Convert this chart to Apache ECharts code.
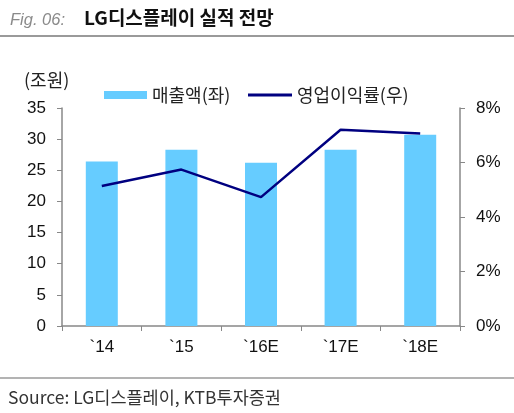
<!DOCTYPE html>
<html>
<head>
<meta charset="utf-8">
<script src="https://cdn.jsdelivr.net/npm/echarts@6/dist/echarts.min.js"></script>
<style>
  html, body { margin: 0; padding: 0; background: #fff; }
  #chart { width: 514px; height: 413px; }
</style>
</head>
<body>
<div id="chart"></div>
<script>
// 연도 / 매출액(조원) / 영업이익률(%)
var years = ['`14', '`15', '`16E', '`17E', '`18E'];
var sales = [26.4, 28.3, 26.2, 28.3, 30.7];
var opMargin = [5.14, 5.74, 4.73, 7.2, 7.06];

var FONT = '"Liberation Sans", Arial, "Noto Sans CJK KR", sans-serif';
var KFONT = '"Noto Sans CJK KR", "Liberation Sans", sans-serif';

var option = {
    animation: false,
    textStyle: { fontFamily: FONT },
    title: [{
        text: 'Fig. 06:',
        left: 5, top: 7,
        textStyle: { fontSize: 16.5, fontStyle: 'italic', fontWeight: 'normal', color: '#8a8a8a', fontFamily: FONT }
    }, {
        text: 'LG디스플레이 실적 전망',
        left: 79, top: 3,
        textStyle: { fontSize: 19, fontWeight: 'bold', color: '#111', fontFamily: KFONT }
    }, {
        text: 'Source: LG디스플레이, KTB투자증권',
        left: 3, top: 384,
        textStyle: { fontSize: 17.5, fontWeight: 'normal', color: '#333', fontFamily: KFONT }
    }],
    graphic: [
        { type: 'line', shape: { x1: 0, y1: 36, x2: 514, y2: 36 }, style: { stroke: '#9a9a9a', lineWidth: 2 } },
        { type: 'line', shape: { x1: 0, y1: 378, x2: 514, y2: 378 }, style: { stroke: '#9a9a9a', lineWidth: 1.5 } },
        { type: 'text', left: 24, top: 71, style: { text: '(조원)', fontSize: 18, fill: '#222', fontFamily: KFONT } }
    ],
    legend: [{
        data: [{ name: '매출액(좌)', icon: 'rect' }],
        left: 99, top: 81,
        itemWidth: 43, itemHeight: 8, itemGap: 5,
        textStyle: { fontSize: 18, color: '#222', fontFamily: KFONT }
    }, {
        data: [{ name: '영업이익률(우)', icon: 'rect' }],
        left: 243, top: 81,
        itemWidth: 44, itemHeight: 3,
        itemStyle: { color: '#000080' },
        textStyle: { fontSize: 18, color: '#222', fontFamily: KFONT }
    }],
    grid: { left: 62, right: 54, top: 108, bottom: 87 },
    xAxis: {
        type: 'category',
        data: years,
        axisLine: { lineStyle: { color: '#888', width: 1.5 } },
        axisTick: { show: true, length: 5, lineStyle: { color: '#888' } },
        axisLabel: { fontSize: 17, color: '#111', margin: 13 }
    },
    yAxis: [{
        type: 'value',
        min: 0, max: 35, interval: 5,
        axisLine: { show: true, lineStyle: { color: '#888', width: 1.5 } },
        axisTick: { show: true, length: 5, lineStyle: { color: '#888' } },
        splitLine: { show: false },
        axisLabel: { fontSize: 17, color: '#111', margin: 16 }
    }, {
        type: 'value',
        min: 0, max: 8, interval: 2,
        position: 'right',
        axisLine: { show: true, lineStyle: { color: '#888', width: 1.5 } },
        axisTick: { show: true, length: 5, lineStyle: { color: '#888' } },
        splitLine: { show: false },
        axisLabel: { fontSize: 17, color: '#111', margin: 16, formatter: '{value}%' }
    }],
    series: [{
        name: '매출액(좌)',
        type: 'bar',
        data: sales,
        barWidth: 32,
        itemStyle: { color: '#66ccff' }
    }, {
        name: '영업이익률(우)',
        type: 'line',
        yAxisIndex: 1,
        data: opMargin,
        symbol: 'none',
        lineStyle: { color: '#000080', width: 2.5 },
        itemStyle: { color: '#000080' }
    }]
};

var myChart = echarts.init(document.getElementById('chart'));
myChart.setOption(option);
</script>
</body>
</html>
